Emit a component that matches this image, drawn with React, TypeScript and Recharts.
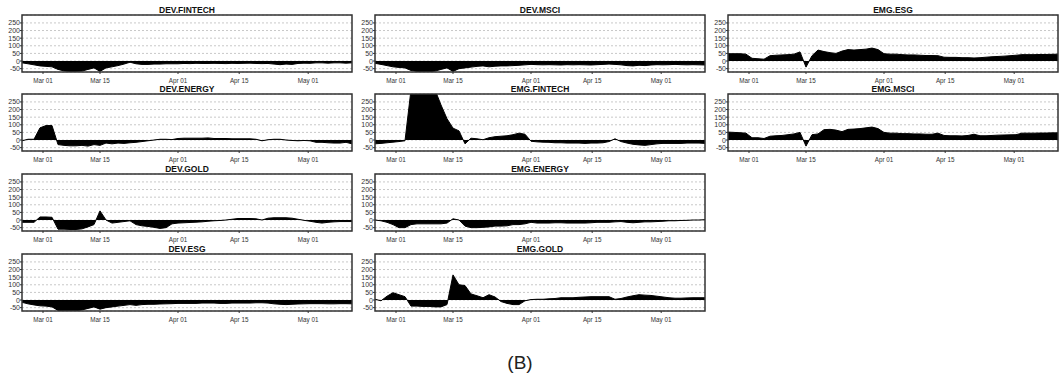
import { AreaChart, Area, XAxis, YAxis, CartesianGrid, ReferenceArea } from "recharts";

// x positions of the date labels, in trading-day index
const tickIdx = [3.5, 13, 26, 36.2, 47.7];
const tickLabels = ["Mar 01", "Mar 15", "Apr 01", "Apr 15", "May 01"];
const yTicks = [-50, 0, 50, 100, 150, 200, 250];

const devFintech = [
  -12, -18, -25, -32, -35, -38, -55, -65, -68, -68,
  -66, -55, -45, -68, -45, -38, -30, -20, -8, -18,
  -22, -22, -20, -20, -18, -18, -18, -16, -17, -15,
  -16, -16, -15, -16, -17, -15, -16, -15, -14, -16,
  -17, -16, -20, -24, -20, -22, -16, -14, -15, -12,
  -12, -14, -12, -12, -14, -12,
];
const devMsci = [
  -15, -22, -30, -38, -42, -45, -62, -68, -70, -70,
  -66, -55, -45, -68, -50, -45, -40, -35, -32, -38,
  -34, -32, -32, -30, -28, -25, -22, -24, -25, -24,
  -25, -26, -24, -25, -24, -25, -26, -24, -22, -20,
  -22, -25, -30, -32, -28, -30, -26, -24, -25, -24,
  -22, -24, -25, -24, -25, -26,
];
const emgEsg = [
  48, 48, 48, 45, 18, 15, 12, 35, 38, 40,
  42, 45, 60, -40, 35, 72, 62, 55, 50, 65,
  75, 72, 75, 78, 85, 75, 48, 45, 45, 42,
  40, 40, 38, 36, 36, 35, 25, 24, 24, 22,
  22, 20, 22, 25, 28, 30, 32, 35, 38, 42,
  42, 42, 43, 43, 44, 45,
];
const devEnergy = [
  -5, 5, 5, 80, 95, 95, -30, -35, -38, -38,
  -35, -40, -30, -35, -20, -25, -20, -22, -18, -15,
  -10, -5, 0, 5, 5, 3, 10, 12, 12, 12,
  12, 14, 10, 10, 10, 8, 8, 8, 8, 5,
  -5, 2, 5, 5, 0, -3, -5, -3, -5, -15,
  -15, -18, -20, -20, -15, -25,
];
const emgFintech = [
  -25, -22, -18, -14, -10, -5, 330, 330, 330, 330,
  330, 230, 140, 78, 60, -25, 12, 8, 2, 15,
  22, 25, 28, 35, 45, 38, -8, -12, -14, -15,
  -18, -18, -20, -20, -20, -22, -20, -20, -18, -10,
  8, -10, -20, -28, -32, -35, -30, -25, -22, -22,
  -22, -22, -20, -20, -20, -22,
];
const emgMsci = [
  52, 50, 48, 45, 15, 15, 10, 25, 28, 30,
  35, 40, 50, -40, 35, 40, 68, 70, 65, 55,
  70, 72, 75, 80, 85, 75, 50, 45, 45, 42,
  42, 40, 40, 38, 38, 45, 30, 28, 28, 27,
  30, 38, 28, 28, 30, 32, 33, 34, 35, 45,
  45, 45, 46, 46, 47, 47,
];
const devGold = [
  -15, -15, -15, 20, 20, 18, -60, -60, -62, -62,
  -58, -45, -30, 60, 0, -20, -15, -10, -5, -30,
  -38, -42, -48, -55, -50, -25, -20, -18, -16, -14,
  -12, -8, -5, -3, 0, 5, 10, 10, 10, 8,
  0, 12, 15, 15, 15, 12, 5, -2, -8, -15,
  -20, -15, -12, -10, -10, -10,
];
const emgEnergy = [
  0, -5, -15, -30, -50, -50, -30, -25, -25, -25,
  -25, -25, -20, 8, 0, -40, -50, -50, -48, -45,
  -40, -40, -38, -30, -30, -25, -15, -20, -20, -20,
  -18, -18, -20, -20, -20, -20, -18, -15, -15, -15,
  -12, -10, -15, -18, -15, -12, -12, -10, -8, -5,
  -5, -3, -2, 0, 0, 2,
];
const devEsg = [
  -15, -25, -32, -38, -40, -45, -68, -70, -70, -70,
  -65, -55, -45, -60, -50, -45, -40, -35, -30, -35,
  -30, -28, -28, -26, -25, -24, -22, -22, -22, -22,
  -20, -20, -20, -22, -22, -20, -20, -20, -20, -18,
  -18, -20, -25, -28, -30, -28, -26, -25, -24, -24,
  -24, -25, -25, -24, -24, -25,
];
const emgGold = [
  5, -5, 25, 48, 35, 22, -40, -40, -42, -42,
  -45, -45, -30, 165, 100, 95, 40, 28, 15, 35,
  20, -10, -22, -30, -30, -5, 3, 5, 5, 8,
  10, 15, 15, 15, 18, 20, 22, 22, 22, 22,
  5, 10, 20, 28, 35, 32, 30, 25, 20, 15,
  12, 12, 14, 15, 15, 15,
];

const Y_MIN = -72;
const Y_MAX = 302;
const X_MAX = 55;

const colLeft = [22, 375, 728];
const rowTop = [15, 94, 174, 254];
const BOX_W = 330;
const BOX_H = 57;
const FONT = '"Liberation Sans", Arial, sans-serif';

const panels = [
  { title: "DEV.FINTECH", values: devFintech, col: 0, row: 0 },
  { title: "DEV.ENERGY", values: devEnergy, col: 0, row: 1 },
  { title: "DEV.GOLD", values: devGold, col: 0, row: 2 },
  { title: "DEV.ESG", values: devEsg, col: 0, row: 3 },
  { title: "DEV.MSCI", values: devMsci, col: 1, row: 0 },
  { title: "EMG.FINTECH", values: emgFintech, col: 1, row: 1 },
  { title: "EMG.ENERGY", values: emgEnergy, col: 1, row: 2 },
  { title: "EMG.GOLD", values: emgGold, col: 1, row: 3 },
  { title: "EMG.ESG", values: emgEsg, col: 2, row: 0 },
  { title: "EMG.MSCI", values: emgMsci, col: 2, row: 1 },
];

function Panel({ title, values, col, row }: { title: string; values: number[]; col: number; row: number }) {
  const data = values.map((v, i) => ({ i, v }));
  const left = colLeft[col];
  const top = rowTop[row];
  return (
    <>
      <div
        style={{
          position: "absolute",
          left,
          top: top - 10,
          width: BOX_W,
          height: 10,
          lineHeight: "10px",
          textAlign: "center",
          fontFamily: FONT,
          fontWeight: "bold",
          fontSize: 8.5,
          color: "#111",
        }}
      >
        {title}
      </div>
      <div style={{ position: "absolute", left: left - 22, top: top - 15 }}>
        <AreaChart
          width={22 + BOX_W + 6}
          height={15 + BOX_H + 14}
          data={data}
          margin={{ top: 15, right: 6, bottom: 0, left: 0 }}
        >
          <CartesianGrid horizontal vertical={false} stroke="#c8c8c8" strokeDasharray="2 2" />
          <XAxis
            dataKey="i"
            type="number"
            domain={[0, X_MAX]}
            ticks={tickIdx}
            tickFormatter={(v: number) => tickLabels[tickIdx.indexOf(v)] ?? ""}
            height={14}
            axisLine={false}
            tickSize={2}
            tickMargin={5}
            tickLine={{ stroke: "#333" }}
            tick={{ fill: "#333", fontSize: 6.3, fontFamily: FONT }}
            interval={0}
          />
          <YAxis
            type="number"
            domain={[Y_MIN, Y_MAX]}
            allowDataOverflow
            ticks={yTicks}
            width={22}
            axisLine={false}
            tickSize={2}
            tickMargin={0}
            tickLine={{ stroke: "#333" }}
            tick={{ fill: "#333", fontSize: 7, fontFamily: FONT }}
            interval={0}
          />
          <Area
            type="linear"
            dataKey="v"
            baseValue={0}
            stroke="#000"
            strokeWidth={1}
            fill="#000"
            fillOpacity={1}
            isAnimationActive={false}
            dot={false}
            activeDot={false}
          />
          <ReferenceArea
            x1={0}
            x2={X_MAX}
            y1={Y_MIN}
            y2={Y_MAX}
            fill="none"
            stroke="#333"
            strokeWidth={1.5}
            ifOverflow="visible"
          />
        </AreaChart>
      </div>
    </>
  );
}

export default function App() {
  return (
    <div
      style={{
        position: "absolute",
        left: 0,
        top: 0,
        width: 1063,
        height: 376,
        background: "#fff",
        overflow: "hidden",
      }}
    >
      {panels.map((p) => (
        <Panel key={p.title} {...p} />
      ))}
      <div
        style={{
          position: "absolute",
          left: 0,
          width: 1040,
          top: 351,
          height: 24,
          lineHeight: "24px",
          textAlign: "center",
          fontFamily: FONT,
          fontSize: 19,
          color: "#222",
        }}
      >
        (B)
      </div>
    </div>
  );
}
